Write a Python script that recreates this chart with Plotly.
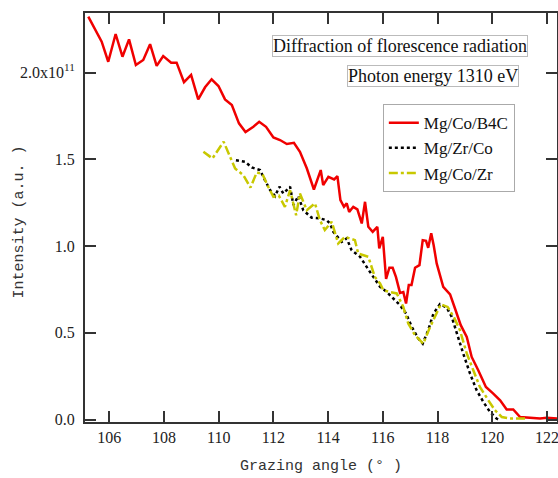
import plotly.graph_objects as go

# intensity in units of 1e11
red_x = [105.23, 105.72, 105.96, 106.23, 106.48, 106.72, 106.97, 107.24, 107.49, 107.73,
         107.97, 108.26, 108.46, 108.73, 108.99, 109.25, 109.50, 109.74, 109.99, 110.23,
         110.48, 110.74, 110.98, 111.24, 111.48, 111.73, 112.00, 112.24, 112.49, 112.75,
         112.97, 113.22, 113.48, 113.73, 113.82, 114.01, 114.22, 114.34, 114.45, 114.58,
         114.68, 114.77, 114.92, 115.07, 115.23, 115.35, 115.47, 115.63, 115.80, 115.87,
         116.00, 116.12, 116.24, 116.36, 116.48, 116.63, 116.75, 116.85, 116.95, 117.05,
         117.18, 117.34, 117.46, 117.58, 117.66, 117.77, 117.86, 117.97, 118.21, 118.46,
         118.64, 118.85, 119.07, 119.25, 119.49, 119.77, 120.04, 120.29, 120.53, 120.77,
         121.02, 121.40, 121.75, 122.00, 122.23, 122.37]
red_y = [2.322, 2.178, 2.062, 2.222, 2.091, 2.191, 2.043, 2.072, 2.163, 2.038,
         2.095, 2.057, 2.057, 1.944, 1.986, 1.845, 1.915, 1.961, 1.922, 1.845,
         1.813, 1.707, 1.657, 1.684, 1.716, 1.687, 1.626, 1.611, 1.588, 1.595,
         1.543, 1.448, 1.326, 1.438, 1.351, 1.399, 1.384, 1.403, 1.265, 1.226,
         1.246, 1.197, 1.226, 1.211, 1.130, 1.255, 1.111, 1.082, 1.111, 0.986,
         1.053, 0.810, 0.875, 0.875, 0.822, 0.730, 0.735, 0.669, 0.775, 0.775,
         0.875, 0.890, 1.034, 1.030, 0.990, 1.073, 1.005, 0.900, 0.765, 0.722,
         0.640, 0.544, 0.476, 0.361, 0.284, 0.188, 0.150, 0.111, 0.058, 0.058,
         0.015, 0.012, 0.006, 0.010, 0.006, 0.006]

black_x = [110.63, 110.96, 111.21, 111.51, 111.69, 111.88, 112.06, 112.22, 112.36, 112.61,
           112.73, 112.91, 113.09, 113.40, 113.70, 113.95, 114.07, 114.19, 114.50, 114.68,
           114.86, 115.17, 115.53, 115.90, 116.14, 116.38, 116.63, 116.85, 117.06, 117.30,
           117.46, 117.66, 117.85, 118.09, 118.34, 118.52, 118.70, 118.94, 119.19, 119.43,
           119.68, 119.92, 120.16, 120.29]
black_y = [1.495, 1.486, 1.453, 1.438, 1.380, 1.322, 1.288, 1.342, 1.303, 1.342,
           1.236, 1.288, 1.207, 1.163, 1.159, 1.149, 1.130, 1.082, 1.024, 1.044,
           0.976, 0.938, 0.851, 0.765, 0.736, 0.698, 0.659, 0.611, 0.534, 0.467,
           0.438, 0.515, 0.610, 0.665, 0.645, 0.592, 0.496, 0.381, 0.265, 0.169,
           0.101, 0.044, 0.006, -0.004]

yellow_x = [109.44, 109.77, 110.18, 110.41, 110.60, 110.90, 111.16, 111.39, 111.60, 111.81,
            112.00, 112.20, 112.42, 112.61, 112.83, 112.97, 113.22, 113.52, 113.70, 113.88,
            114.13, 114.37, 114.62, 114.98, 115.10, 115.47, 115.71, 115.90, 116.02, 116.25,
            116.51, 116.75, 116.93, 117.18, 117.48, 117.73, 117.97, 118.12, 118.37, 118.61,
            118.82, 119.07, 119.31, 119.55, 119.86, 120.10, 120.35, 120.65, 121.26]
yellow_y = [1.543, 1.505, 1.601, 1.515, 1.447, 1.409, 1.337, 1.424, 1.415, 1.342,
            1.284, 1.290, 1.226, 1.322, 1.178, 1.303, 1.207, 1.246, 1.149, 1.092,
            1.140, 1.015, 1.053, 1.034, 0.957, 0.938, 0.822, 0.784, 0.746, 0.735,
            0.727, 0.649, 0.554, 0.486, 0.438, 0.534, 0.611, 0.664, 0.649, 0.587,
            0.515, 0.381, 0.284, 0.188, 0.111, 0.054, 0.015, 0.006, 0.006]

x_ticks = [106, 108, 110, 112, 114, 116, 118, 120, 122]
y_ticks = [0.0, 0.5, 1.0, 1.5, 2.0]
y_ticktext = ['0.0', '0.5', '1.0', '1.5', '2.0x10<sup>11</sup>']

fig = go.Figure()
fig.add_trace(go.Scatter(x=red_x, y=red_y, mode='lines', name='Mg/Co/B4C',
                         line=dict(color='rgb(240,0,0)', width=2.5)))
fig.add_trace(go.Scatter(x=black_x, y=black_y, mode='lines', name='Mg/Zr/Co',
                         line=dict(color='black', width=2.5, dash='dot')))
fig.add_trace(go.Scatter(x=yellow_x, y=yellow_y, mode='lines', name='Mg/Co/Zr',
                         line=dict(color='rgb(200,200,0)', width=2.5, dash='dashdot')))

box_font = dict(family='Liberation Serif', size=18, color='#111')
title_font = dict(family='Liberation Mono', size=15, color='#333')

fig.update_layout(
    width=558,
    height=478,
    margin=dict(l=85, r=1, t=13, b=56),
    plot_bgcolor='white',
    paper_bgcolor='white',
    font=dict(family='Liberation Serif', size=16, color='#222'),
    legend=dict(
        x=0.631, y=0.777, xanchor='left', yanchor='top',
        bgcolor='white', bordercolor='#aaa', borderwidth=1,
        font=dict(family='Liberation Serif', size=17, color='#111'),
        tracegroupgap=0, itemwidth=30
    ),
    annotations=[
        dict(text='Diffraction of florescence radiation', xref='paper', yref='paper',
             x=0.667, y=0.919, xanchor='center', yanchor='middle', showarrow=False,
             bordercolor='#bbb', borderwidth=1, borderpad=0, font=box_font),
        dict(text='Photon energy 1310 eV', xref='paper', yref='paper',
             x=0.737, y=0.846, xanchor='center', yanchor='middle', showarrow=False,
             bordercolor='#bbb', borderwidth=1, borderpad=0, font=box_font),
        # y axis title placed by hand so it sits where the reference has it
        dict(text='Intensity (a.u. )', xref='paper', yref='paper',
             x=-0.138, y=0.49, xanchor='center', yanchor='middle', showarrow=False,
             textangle=-90, font=title_font),
    ]
)

fig.update_xaxes(
    range=[105.11, 122.37],
    tickvals=x_ticks,
    ticks='inside',
    ticklen=11,
    tickwidth=2,
    tickcolor='#333',
    showline=True,
    linecolor='#333',
    linewidth=2,
    mirror='ticks',
    showgrid=False,
    zeroline=False,
    automargin=False,
    ticklabeloverflow='allow',
    title=dict(text='Grazing angle (° )', font=title_font, standoff=14)
)
fig.update_yaxes(
    range=[-0.014, 2.343],
    tickvals=y_ticks,
    ticktext=y_ticktext,
    ticks='inside',
    ticklen=11,
    tickwidth=2,
    tickcolor='#333',
    showline=True,
    linecolor='#333',
    linewidth=2,
    mirror='ticks',
    showgrid=False,
    zeroline=False,
    automargin=False,
    ticklabelstandoff=5,
)

# drop the default 8px page margin so the figure sits at the window corner
fig.write_html('out.html', config={'displayModeBar': False},
               post_script="document.body.style.margin='0';")
